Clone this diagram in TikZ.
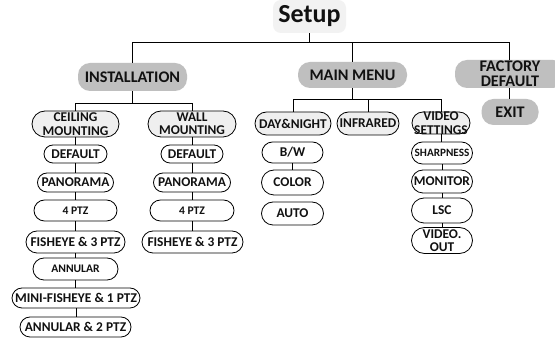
\documentclass[tikz,border=0pt]{standalone}
\usepackage{fontspec}
\setmainfont{Carlito}
\usetikzlibrary{shapes.misc}
\definecolor{topgray}{HTML}{BFBFBF}
\definecolor{subgray}{HTML}{EFEFEF}
\definecolor{setupgray}{HTML}{F2F2F2}
\definecolor{txt}{HTML}{111111}
\tikzset{
  fs/.style={font=\bfseries\fontsize{#1}{#1}\selectfont},
  topbox/.style={rectangle, rounded corners=12pt, fill=topgray, draw=none, text=txt,
    inner sep=0pt, align=center, fs=16.2},
  subbox/.style={rounded rectangle, draw=black, line width=0.8pt, fill=subgray, text=txt,
    inner sep=0pt, align=center, fs=13.4},
  leaf/.style={rounded rectangle, draw=black, line width=0.8pt, fill=white, text=txt,
    inner sep=0pt, align=center, fs=13.4},
  sz/.style 2 args={minimum width=#1pt, minimum height=#2pt},
  txt2/.style={label={[fs=13.4, text=txt, align=center, inner sep=0pt]center:#1}},
  link/.style={draw=black, line width=0.8pt}
}
\begin{document}
\begin{tikzpicture}[x=1pt,y=-1pt]
\clip (0,0) rectangle (555,344);
\fill[white] (0,0) rectangle (555,344);
% top level
\node[rectangle, rounded corners=8pt, fill=setupgray, inner sep=0pt, sz={73}{33}, text=txt,
  font=\bfseries\fontsize{26}{26}\selectfont] (setup) at (309.5,16.5) {Setup};
\node[topbox, sz={109}{28}] (inst) at (132.5,77) {INSTALLATION};
\node[topbox, sz={109}{26}] (mm) at (352.5,75) {MAIN MENU};
\node[topbox, sz={110}{28}, inner ysep=-2pt] (fact) at (510,74) {FACTORY\\[-1pt]DEFAULT};
\node[topbox, sz={57}{26}] (exit) at (510,112) {EXIT};
\coordinate (bar) at (0,42);
\draw[link] (setup.south) -- (setup.south |- bar);
\draw[link] (inst.north) |- (bar -| 509,0) -- (509,0 |- fact.north);
\draw[link] (mm.north) -- (mm.north |- bar);
\draw[link] (509,0 |- fact.south) -- (509,0 |- exit.north);
% installation
\node[subbox, sz={87}{26}, txt2={CEILING\\MOUNTING}] (ceil) at (75.5,124) {};
\node[subbox, sz={88}{26}, txt2={WALL\\MOUNTING}] (wall) at (192,124) {};
\coordinate (ibar) at (0,103);
\draw[link] (inst.south) -- (inst.south |- ibar);
\draw[link] (ceil.north) |- (ibar -| wall.north) -- (wall.north);
\node[leaf, sz={63}{18}] (c1) at (75.5,154) {DEFAULT};
\node[leaf, sz={76}{19}] (c2) at (75.5,182.5) {PANORAMA};
\node[leaf, sz={83}{21}, fs=11.6] (c3) at (75.5,210.5) {4 PTZ};
\node[leaf, sz={99}{22}] (c4) at (75.5,242) {FISHEYE \& 3 PTZ};
\node[leaf, sz={85}{22}, fs=11.6] (c5) at (75.5,269) {ANNULAR};
\node[leaf, sz={128}{20}] (c6) at (76,298) {MINI-FISHEYE \& 1 PTZ};
\node[leaf, sz={111}{20}] (c7) at (75.5,327) {ANNULAR \& 2 PTZ};
\foreach \a/\b in {ceil/c1,c1/c2,c2/c3,c3/c4,c4/c5,c5/c6,c6/c7}
  \draw[link] (\a.south) -- (\a.south |- \b.north);
\node[leaf, sz={62}{18}] (w1) at (192,154) {DEFAULT};
\node[leaf, sz={77}{19}] (w2) at (192,182.5) {PANORAMA};
\node[leaf, sz={84}{21}, fs=11.6] (w3) at (192,210.5) {4 PTZ};
\node[leaf, sz={101}{22}] (w4) at (192.5,242) {FISHEYE \& 3 PTZ};
\foreach \a/\b in {wall/w1,w1/w2,w2/w3,w3/w4}
  \draw[link] (\a.south) -- (\a.south |- \b.north);
% main menu
\node[subbox, sz={76}{23}] (dn) at (293,123.5) {DAY\&NIGHT};
\node[subbox, sz={62}{23}] (ir) at (368,123.5) {INFRARED};
\node[subbox, sz={58}{22}, txt2={VIDEO\\SETTINGS}] (vs) at (441,123) {};
\coordinate (mbar) at (0,99);
\draw[link] (mm.south) -- (mm.south |- mbar);
\draw[link] (dn.north) |- (mbar -| vs.north) -- (vs.north);
\draw[link] (ir.north) -- (ir.north |- mbar);
\node[leaf, sz={61}{21}] (d1) at (292.5,152.5) {B/W};
\node[leaf, sz={62}{25}] (d2) at (292.5,182.5) {COLOR};
\node[leaf, sz={62}{23}] (d3) at (292.5,213.5) {AUTO};
\draw[link] (d1.south) -- (d1.south |- d2.north);
\node[leaf, sz={61}{22}, fs=11.2] (v1) at (442,153) {SHARPNESS};
\node[leaf, sz={61}{23}] (v2) at (442,181.5) {MONITOR};
\node[leaf, sz={61}{25}] (v3) at (442,210.5) {LSC};
\node[leaf, sz={61}{26}, txt2={VIDEO.\\OUT}] (v4) at (442,240.5) {};
\foreach \a/\b in {vs/v1,v1/v2,v2/v3,v3/v4}
  \draw[link] (\a.south) -- (\a.south |- \b.north);
\end{tikzpicture}
\end{document}
